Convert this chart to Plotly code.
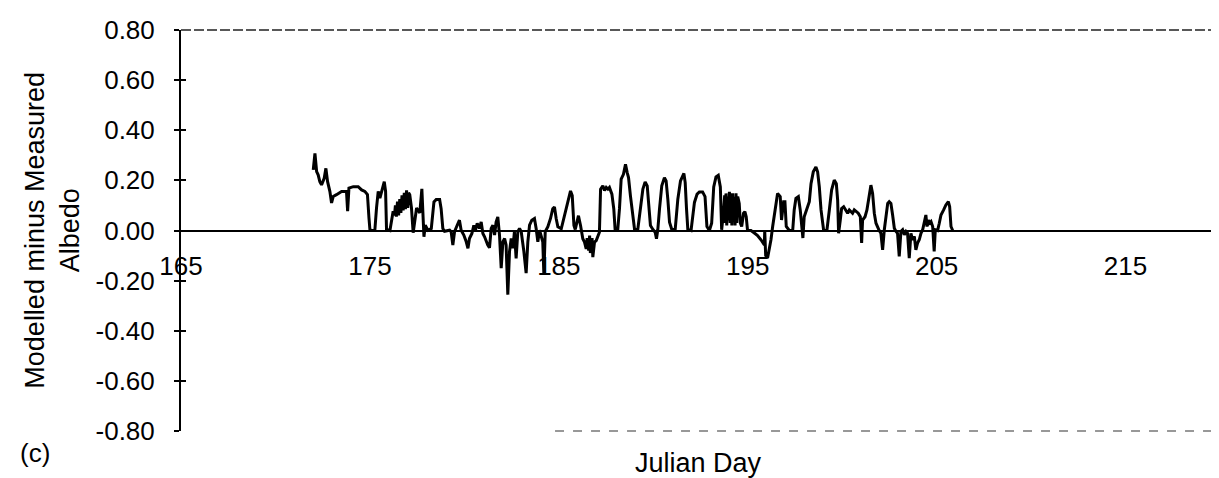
import plotly.graph_objects as go

# Julian day and modelled-minus-measured albedo
day = [
    172.00, 172.09, 172.18, 172.26, 172.35, 172.44, 172.58, 172.67, 172.76, 172.88,
    172.97, 173.06, 173.23, 173.50, 173.76, 173.82, 173.89, 174.12, 174.38, 174.56,
    174.73, 174.87, 174.95, 175.00, 175.09, 175.26, 175.35, 175.44, 175.53, 175.65,
    175.76, 175.83, 175.88, 176.06, 176.14, 176.23, 176.30, 176.35, 176.40, 176.46,
    176.52, 176.58, 176.64, 176.70, 176.76, 176.82, 176.88, 176.94, 177.00, 177.05,
    177.11, 177.20, 177.29, 177.38, 177.47, 177.64, 177.75, 177.86, 177.93, 178.07,
    178.25, 178.39, 178.51, 178.69, 178.77, 178.86, 178.95, 179.22, 179.30, 179.39,
    179.48, 179.62, 179.74, 179.83, 179.97, 180.10, 180.19, 180.27, 180.40, 180.50,
    180.57, 180.68, 180.80, 180.89, 180.98, 181.07, 181.16, 181.24, 181.33, 181.42,
    181.51, 181.60, 181.68, 181.77, 181.86, 181.95, 182.04, 182.13, 182.21, 182.30,
    182.39, 182.48, 182.57, 182.65, 182.74, 182.83, 182.92, 183.01, 183.15, 183.27,
    183.36, 183.45, 183.57, 183.71, 183.80, 183.89, 183.98, 184.15, 184.21, 184.28,
    184.42, 184.56, 184.68, 184.77, 184.86, 184.95, 185.13, 185.30, 185.48, 185.62,
    185.71, 185.80, 185.87, 185.97, 186.04, 186.15, 186.27, 186.36, 186.45, 186.50,
    186.54, 186.58, 186.63, 186.67, 186.71, 186.76, 186.80, 186.89, 186.98, 187.07,
    187.15, 187.21, 187.33, 187.42, 187.51, 187.60, 187.68, 187.81, 187.91, 187.98,
    188.12, 188.21, 188.30, 188.42, 188.53, 188.62, 188.69, 188.79, 188.92, 189.01,
    189.18, 189.32, 189.45, 189.57, 189.68, 189.75, 189.85, 189.98, 190.10, 190.17,
    190.24, 190.33, 190.45, 190.59, 190.68, 190.77, 190.86, 190.98, 191.16, 191.30,
    191.44, 191.62, 191.69, 191.76, 191.83, 192.00, 192.09, 192.18, 192.32, 192.44,
    192.61, 192.74, 192.84, 192.97, 193.09, 193.20, 193.32, 193.44, 193.55, 193.62,
    193.73, 193.78, 193.82, 193.85, 193.89, 193.94, 193.98, 194.03, 194.07, 194.11,
    194.16, 194.20, 194.24, 194.29, 194.33, 194.38, 194.42, 194.47, 194.55, 194.61,
    194.68, 194.78, 194.85, 194.92, 194.99, 195.17, 195.35, 195.52, 195.70, 195.88,
    195.90, 195.95, 196.05, 196.14, 196.23, 196.32, 196.44, 196.58, 196.72, 196.79,
    196.90, 196.97, 197.04, 197.20, 197.38, 197.46, 197.55, 197.68, 197.78, 197.85,
    197.92, 197.99, 198.13, 198.26, 198.35, 198.47, 198.61, 198.70, 198.79, 198.88,
    199.02, 199.19, 199.32, 199.44, 199.58, 199.69, 199.76, 199.81, 199.90, 199.97,
    200.08, 200.20, 200.29, 200.38, 200.47, 200.55, 200.64, 200.73, 200.85, 200.96,
    201.03, 201.08, 201.21, 201.31, 201.44, 201.52, 201.61, 201.70, 201.79, 201.88,
    201.96, 202.05, 202.14, 202.23, 202.32, 202.41, 202.49, 202.58, 202.67, 202.76,
    202.85, 202.93, 203.02, 203.11, 203.20, 203.29, 203.38, 203.46, 203.55, 203.64,
    203.73, 203.82, 203.90, 203.99, 204.08, 204.17, 204.26, 204.35, 204.43, 204.49,
    204.56, 204.61, 204.70, 204.79, 204.87, 204.93, 205.05, 205.14, 205.23, 205.37,
    205.49, 205.62, 205.69, 205.76, 205.85,
]
albedo_diff = [
    0.242, 0.308, 0.235, 0.222, 0.195, 0.182, 0.208, 0.248, 0.195, 0.156,
    0.110, 0.136, 0.143, 0.156, 0.156, 0.077, 0.169, 0.175, 0.175, 0.162,
    0.156, 0.143, 0.050, 0.004, 0.000, 0.000, 0.090, 0.156, 0.129, 0.169,
    0.195, 0.156, 0.004, 0.000, 0.037, 0.077, 0.060, 0.100, 0.055, 0.115,
    0.060, 0.125, 0.070, 0.140, 0.080, 0.150, 0.085, 0.160, 0.090, 0.150,
    0.143, 0.090, -0.009, 0.050, 0.090, 0.070, 0.166, -0.025, 0.021, 0.001,
    0.008, 0.114, 0.124, 0.124, 0.087, 0.008, -0.003, 0.001, -0.005, -0.058,
    -0.005, 0.021, 0.041, 0.001, -0.018, -0.045, -0.071, -0.032, -0.012, 0.021,
    -0.005, 0.028, 0.008, 0.034, -0.012, -0.025, -0.045, -0.058, -0.069, 0.008,
    0.021, -0.018, 0.034, 0.054, -0.018, -0.150, -0.045, -0.032, -0.058, -0.256,
    -0.084, -0.032, -0.071, -0.005, -0.111, -0.005, 0.008, -0.005, -0.084, -0.170,
    -0.045, 0.021, 0.041, 0.048, 0.008, -0.045, 0.001, -0.045, -0.177, -0.005,
    0.015, 0.048, 0.087, 0.094, 0.048, 0.015, 0.007, 0.059, 0.125, 0.158,
    0.139, 0.020, 0.004, 0.046, 0.059, 0.020, -0.033, -0.046, -0.073, -0.030,
    -0.046, -0.080, -0.020, -0.090, -0.059, -0.030, -0.106, -0.046, -0.040, -0.020,
    -0.007, 0.165, 0.178, 0.160, 0.172, 0.165, 0.172, 0.145, 0.086, 0.004,
    0.004, 0.086, 0.205, 0.224, 0.264, 0.231, 0.211, 0.139, 0.046, 0.004,
    0.004, 0.086, 0.165, 0.194, 0.178, 0.112, 0.020, 0.004, -0.007, -0.033,
    0.004, 0.086, 0.178, 0.211, 0.198, 0.125, 0.033, 0.004, 0.004, 0.125,
    0.198, 0.228, 0.191, 0.086, 0.004, 0.000, 0.046, 0.112, 0.145, 0.154,
    0.154, 0.135, 0.016, 0.000, 0.029, 0.174, 0.214, 0.220, 0.174, 0.003,
    0.082, 0.140, 0.030, 0.148, 0.020, 0.135, 0.040, 0.154, 0.030, 0.148,
    0.020, 0.148, 0.040, 0.135, 0.020, 0.148, 0.030, 0.135, 0.108, 0.029,
    0.016, 0.069, 0.075, 0.055, 0.000, 0.000, -0.010, -0.020, -0.037, -0.057,
    0.000, -0.100, -0.110, -0.077, -0.037, 0.016, 0.082, 0.148, 0.135, 0.042,
    0.115, 0.115, 0.016, 0.000, 0.000, 0.082, 0.128, 0.135, 0.082, 0.029,
    -0.030, 0.055, 0.088, 0.115, 0.187, 0.234, 0.253, 0.234, 0.174, 0.082,
    0.000, 0.000, 0.082, 0.161, 0.201, 0.187, 0.121, -0.011, 0.042, 0.088,
    0.095, 0.082, 0.069, 0.082, 0.075, 0.069, 0.082, 0.075, 0.069, 0.055,
    -0.050, 0.042, 0.055, 0.082, 0.135, 0.181, 0.148, 0.069, 0.029, 0.009,
    0.000, -0.011, -0.077, 0.003, 0.069, 0.108, 0.115, 0.108, 0.062, 0.009,
    -0.004, -0.011, -0.103, -0.004, 0.003, -0.017, -0.004, -0.011, -0.110, -0.011,
    -0.037, -0.024, -0.077, -0.050, -0.037, -0.011, 0.003, 0.029, 0.062, 0.016,
    0.042, 0.029, 0.036, 0.016, -0.083, 0.003, 0.000, 0.029, 0.062, 0.082,
    0.102, 0.115, 0.095, 0.016, 0.000,
]

x_ticks = [165, 175, 185, 195, 205, 215]
y_ticks = [0.8, 0.6, 0.4, 0.2, 0.0, -0.2, -0.4, -0.6, -0.8]
y_tick_text = ["%.2f" % v for v in y_ticks]

FONT = "Liberation Sans, Arial, sans-serif"

fig = go.Figure()
fig.add_trace(go.Scatter(x=day, y=albedo_diff, mode="lines",
                         line=dict(color="black", width=3), showlegend=False))
# placeholder trace so the overlaid axis (inner half of the cross ticks) gets drawn
fig.add_trace(go.Scatter(x=[None], y=[None], yaxis="y2", mode="lines",
                         showlegend=False, hoverinfo="skip"))

fig.update_layout(
    width=1219, height=478,
    margin=dict(l=173, r=7, t=19, b=55),
    paper_bgcolor="white", plot_bgcolor="white",
    font=dict(family=FONT, size=26, color="black"),
    xaxis=dict(range=[165, 220], tickvals=x_ticks, ticktext=[str(t) for t in x_ticks],
               anchor="free", position=0.5, showline=True, linecolor="black",
               linewidth=1.5, ticks="", showgrid=False, zeroline=False,
               tickfont=dict(size=26), ticklabelstandoff=13),
    yaxis=dict(range=[-0.8, 0.8], tickvals=y_ticks, ticktext=y_tick_text,
               showline=True, linecolor="black", linewidth=2, ticks="outside",
               ticklen=5, tickwidth=1.5, tickcolor="black", showgrid=False,
               zeroline=False, tickfont=dict(size=26), ticklabelstandoff=14),
    yaxis2=dict(range=[-0.8, 0.8], overlaying="y", anchor="x", side="left",
                tickvals=y_ticks, ticks="inside", ticklen=5, tickwidth=1.5,
                tickcolor="black", showticklabels=False, showgrid=False,
                zeroline=False, showline=False),
)

# scanned-looking frame: dashed top/bottom, dotted right side
fig.add_shape(type="line", xref="paper", yref="paper", x0=0, x1=1, y0=1, y1=1,
              line=dict(color="#222", width=1.3, dash="10px,3px"))
fig.add_shape(type="line", xref="paper", yref="paper", x0=1, x1=1, y0=0, y1=1,
              line=dict(color="#444", width=1.2, dash="dot"))
fig.add_shape(type="line", xref="paper", yref="paper", x0=0.36, x1=1, y0=0, y1=0,
              line=dict(color="#333", width=1.2, dash="dash"))

fig.add_annotation(text="Modelled minus Measured<br>Albedo", xref="paper", yref="paper",
                   x=-0.124, y=0.5, textangle=-90, showarrow=False,
                   xanchor="center", yanchor="middle", font=dict(size=27))
fig.add_annotation(text="Julian Day", xref="paper", yref="paper", x=0.498, y=-0.08,
                   showarrow=False, xanchor="center", yanchor="middle", font=dict(size=27))
fig.add_annotation(text="(c)", xref="paper", yref="paper", x=-0.1405, y=-0.054,
                   showarrow=False, xanchor="center", yanchor="middle", font=dict(size=26))

fig.write_html("out.html")
